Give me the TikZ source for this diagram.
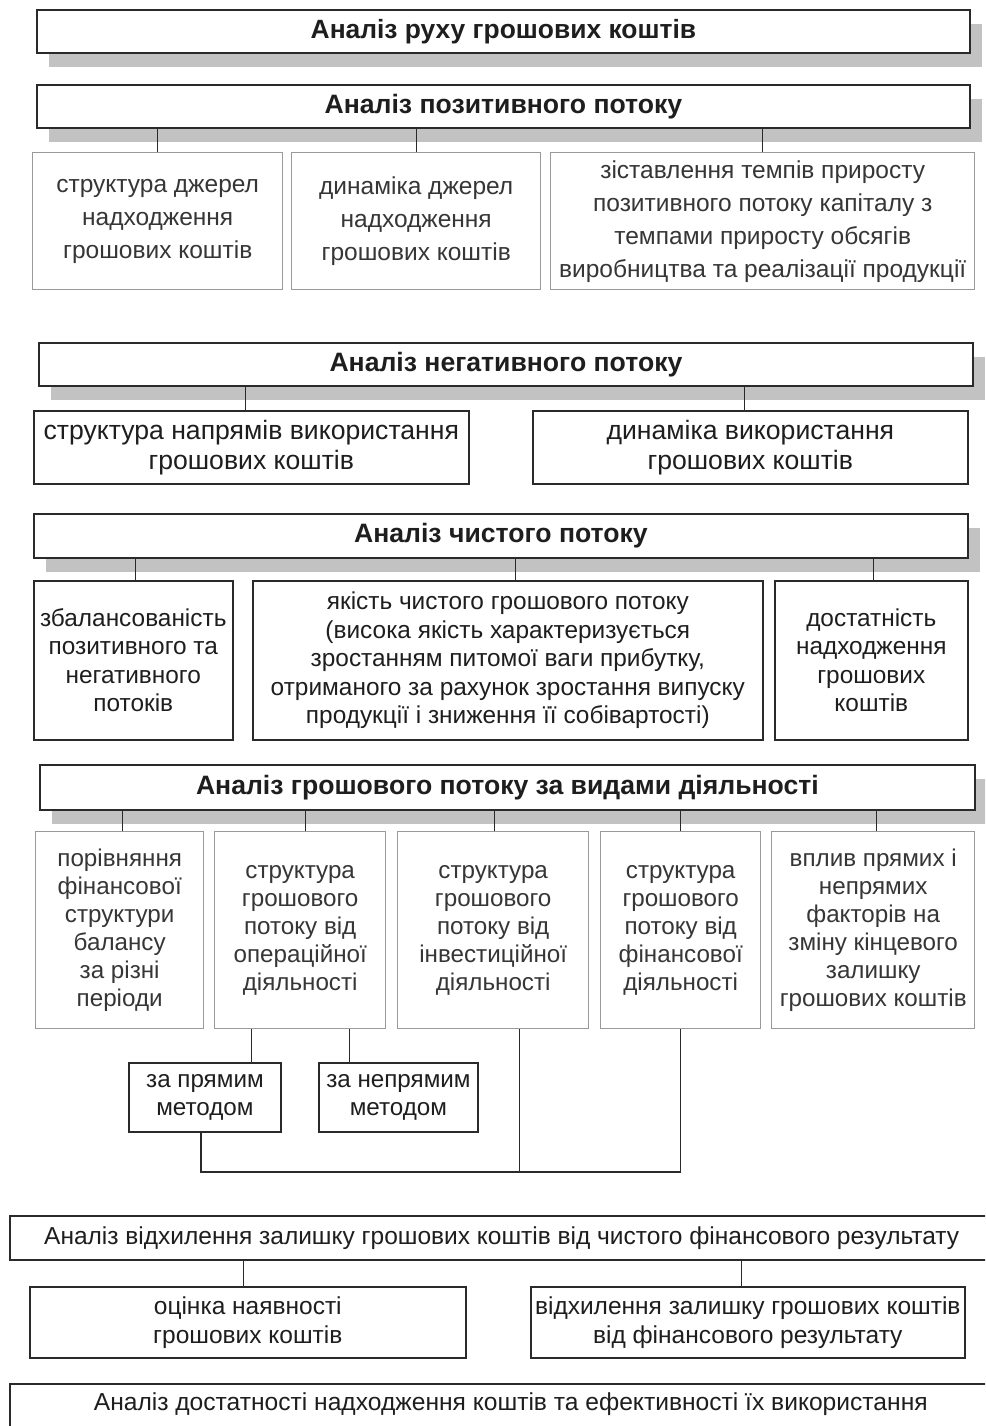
\documentclass[tikz,border=0pt]{standalone}
\usepackage{fontspec}
\setmainfont{Liberation Sans}
\usetikzlibrary{shadows}
\definecolor{ink}{HTML}{1E1E1E}
\definecolor{soft}{HTML}{363636}
\definecolor{edge}{HTML}{2A2A2A}
\definecolor{lightedge}{HTML}{9A9A9A}
\begin{document}
\begin{tikzpicture}[x=1pt,y=-1pt,
  base/.style={anchor=north west, inner sep=0pt, align=center, fill=white},
  hdr/.style={base, draw=edge, line width=1.8pt, text=ink,
    font=\bfseries\fontsize{26.6}{28}\selectfont},
  shd/.style={drop shadow={shadow xshift=12pt, shadow yshift=-14pt, fill=black!24, opacity=1}},
  graybox/.style={base, draw=lightedge, line width=1.4pt, text=soft},
  darkbox/.style={base, draw=edge, line width=1.6pt, text=ink},
  conn/.style={draw=edge, line width=1.3pt},
  fpos/.style={font=\fontsize{24.5}{33}\selectfont},
  fneg/.style={font=\fontsize{26.6}{30}\selectfont},
  fnet/.style={font=\fontsize{24.4}{28.5}\selectfont},
  fact/.style={font=\fontsize{24.2}{28}\selectfont},
  fdev/.style={font=\fontsize{24.5}{29}\selectfont},
]
\clip (0,0) rectangle (985,1426);
\fill[white] (0,0) rectangle (985,1426);

% title
\node[hdr, shd, minimum width=933pt, minimum height=43pt, font=\bfseries\fontsize{26.4}{28}\selectfont] (title) at (36,9) {Аналіз руху грошових коштів};

% positive
\node[hdr, shd, minimum width=933pt, minimum height=43pt] (pos) at (36,84) {Аналіз позитивного потоку};
\node[graybox, fpos, minimum width=250pt, minimum height=137pt] (pA) at (32,152) {структура джерел\\надходження\\грошових коштів};
\node[graybox, fpos, minimum width=249pt, minimum height=137pt] (pB) at (291,152) {динаміка джерел\\надходження\\грошових коштів};
\node[graybox, fpos, minimum width=424pt, minimum height=137pt] (pC) at (550,152) {зіставлення темпів приросту\\позитивного потоку капіталу з\\темпами приросту обсягів\\виробництва та реалізації продукції};
\foreach \c in {pA,pB,pC} \draw[conn] (\c.north) -- (\c.north |- pos.south);

% negative
\node[hdr, shd, minimum width=934pt, minimum height=43pt] (neg) at (38,342) {Аналіз негативного потоку};
\node[darkbox, fneg, minimum width=435pt, minimum height=73pt] (nA) at (33,410) {структура напрямів використання\\грошових коштів};
\node[darkbox, fneg, minimum width=435pt, minimum height=73pt] (nB) at (532,410) {динаміка використання\\грошових коштів};
\foreach \c in {nA,nB} \draw[conn] ([xshift=-6pt]\c.north) -- ([xshift=-6pt]\c.north |- neg.south);

% net
\node[hdr, shd, minimum width=934pt, minimum height=44pt] (net) at (33,513) {Аналіз чистого потоку};
\node[darkbox, fnet, minimum width=199pt, minimum height=159pt] (cA) at (33,580) {збалансованість\\позитивного та\\негативного\\потоків};
\node[darkbox, fnet, minimum width=510pt, minimum height=159pt] (cB) at (252,580) {якість чистого грошового потоку\\(висока якість характеризується\\зростанням питомої ваги прибутку,\\отриманого за рахунок зростання випуску\\продукції і зниження її собівартості)};
\node[darkbox, fnet, minimum width=193pt, minimum height=159pt] (cC) at (774,580) {достатність\\надходження\\грошових\\коштів};
\foreach \c/\s in {cA/2,cB/8,cC/2} \draw[conn] ([xshift=\s pt]\c.north) -- ([xshift=\s pt]\c.north |- net.south);

% activities
\node[hdr, shd, minimum width=935pt, minimum height=45pt] (act) at (39,764) {Аналіз грошового потоку за видами діяльності};
\node[graybox, fact, minimum width=168pt, minimum height=197pt] (aA) at (35,831) {порівняння\\фінансової\\структури\\балансу\\за різні\\періоди};
\node[graybox, fact, minimum width=171pt, minimum height=197pt] (aB) at (214,831) {структура\\грошового\\потоку від\\операційної\\діяльності};
\node[graybox, fact, minimum width=191pt, minimum height=197pt] (aC) at (397,831) {структура\\грошового\\потоку від\\інвестиційної\\діяльності};
\node[graybox, fact, minimum width=160pt, minimum height=197pt] (aD) at (600,831) {структура\\грошового\\потоку від\\фінансової\\діяльності};
\node[graybox, fact, minimum width=203pt, minimum height=197pt] (aE) at (771,831) {вплив прямих і\\непрямих\\факторів на\\зміну кінцевого\\залишку\\грошових коштів};
\foreach \c/\s in {aA/3,aB/5,aC/1,aD/0,aE/3} \draw[conn] ([xshift=\s pt]\c.north) -- ([xshift=\s pt]\c.north |- act.south);

\node[darkbox, fact, line width=1.8pt, minimum width=152pt, minimum height=69pt] (m1) at (128,1062) {за прямим\\методом};
\node[darkbox, fact, line width=1.8pt, minimum width=159pt, minimum height=69pt] (m2) at (318,1062) {за непрямим\\методом};
\draw[conn] ([xshift=-49pt]aB.south) -- ([xshift=-49pt]aB.south |- m1.north);
\draw[conn] ([xshift=49pt]aB.south) -- ([xshift=49pt]aB.south |- m2.north);
\coordinate (bot) at (0,1172);
\draw[conn] ([xshift=-4pt]m1.south) |- (aD.south |- bot) -- (aD.south);
\draw[conn] ([xshift=26pt]aC.south) -- ([xshift=26pt]aC.south |- bot);

% deviation
\node[darkbox, fdev, minimum width=984pt, minimum height=44pt] (dev) at (9,1215) {Аналіз відхилення залишку грошових коштів від чистого фінансового результату};
\node[darkbox, fdev, minimum width=436pt, minimum height=71pt] (dA) at (29,1286) {оцінка наявності\\грошових коштів};
\node[darkbox, fdev, minimum width=434pt, minimum height=71pt] (dB) at (530,1286) {відхилення залишку грошових коштів\\від фінансового результату};
\foreach \c/\s in {dA/-4,dB/-6} \draw[conn] ([xshift=\s pt]\c.north) -- ([xshift=\s pt]\c.north |- dev.south);

% last
\node[darkbox, minimum width=1002pt, minimum height=60pt] (last) at (9,1383) {};
\node[text=ink, font=\fontsize{24.6}{29}\selectfont, inner sep=0pt] (lastt) at ([yshift=-21pt]last.north) {Аналіз достатності надходження коштів та ефективності їх використання};
\end{tikzpicture}
\end{document}
